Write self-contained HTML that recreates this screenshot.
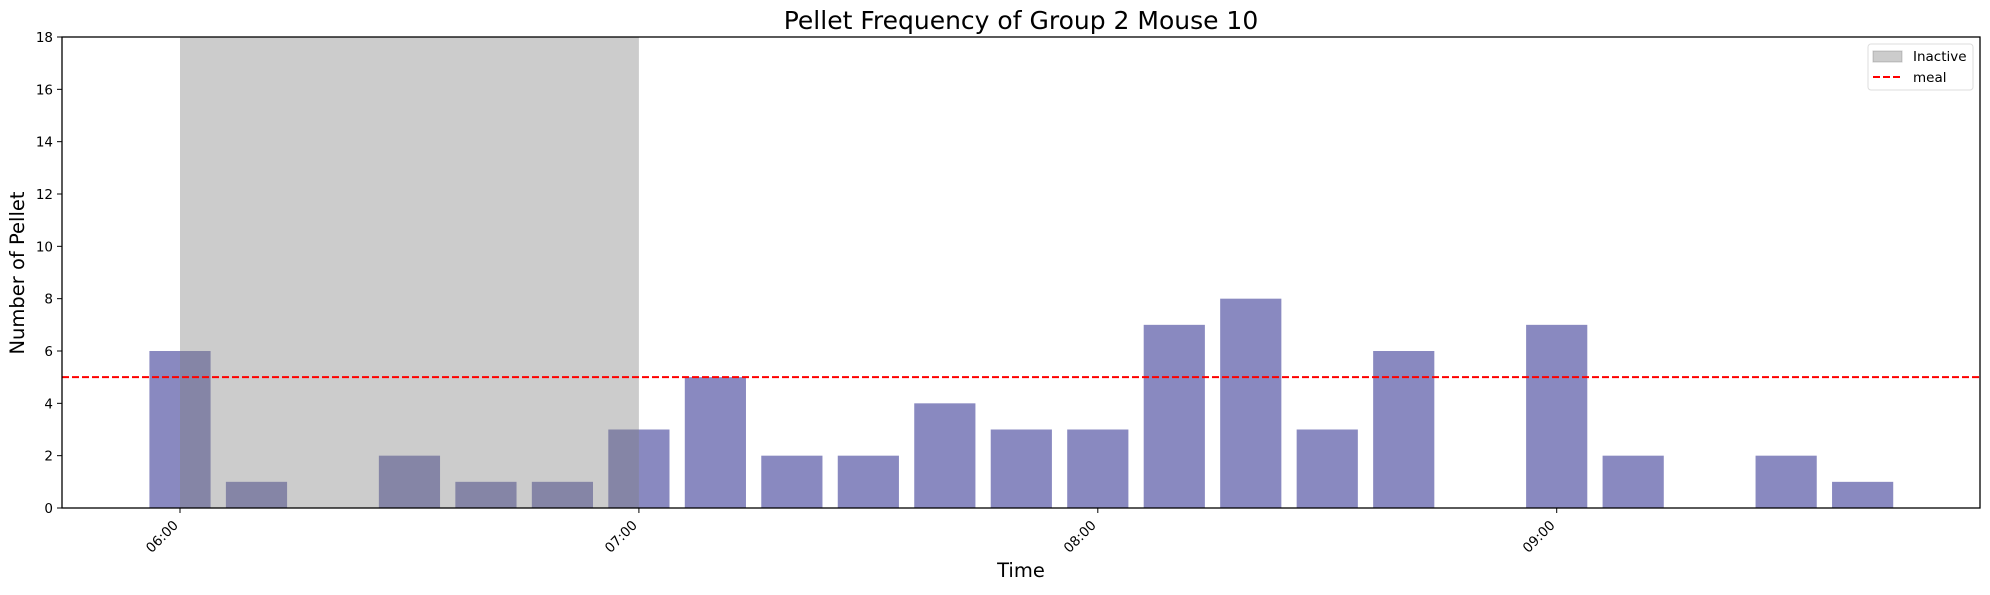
<!DOCTYPE html>
<html><head><meta charset="utf-8"><style>
body{margin:0;background:#fff;}
svg text{font-family:"DejaVu Sans","Liberation Sans",sans-serif;fill:#000;}
</style></head><body>
<svg id="chart" width="1990" height="590" xmlns="http://www.w3.org/2000/svg">
<text x="1021" y="29" font-size="25" text-anchor="middle">Pellet Frequency of Group 2 Mouse 10</text>
<g id="bars"></g>
<g id="overlay"></g>
<g id="axes"></g>
<text x="1021" y="577" font-size="19.5" text-anchor="middle">Time</text>
<text transform="translate(24,273) rotate(-90)" font-size="19.5" text-anchor="middle">Number of Pellet</text>
<g>
<rect x="1868" y="44" width="105" height="46" rx="3" fill="#fff" fill-opacity="0.8" stroke="#ddd"/>
<rect x="1873" y="51" width="29" height="11" fill="rgb(128,128,128)" fill-opacity="0.4" stroke="rgb(128,128,128)" stroke-opacity="0.4"/>
<text x="1913" y="61" font-size="13.5">Inactive</text>
<line x1="1873" y1="77" x2="1902" y2="77" stroke="red" stroke-width="2" stroke-dasharray="7,3"/>
<text x="1913" y="82" font-size="13.5">meal</text>
</g>
</svg>
<script>
// data
const binMinutes = [0,10,20,30,40,50,60,70,80,90,100,110,120,130,140,150,160,170,180,190,200,210,220];
const pelletCounts = [6,1,0,2,1,1,3,5,2,2,4,3,3,7,8,3,6,0,7,2,0,2,1];
const tickMinutes = [0,60,120,180];
const tickLabels = ["06:00","07:00","08:00","09:00"];
const yTicks = [0,2,4,6,8,10,12,14,16,18];
const inactiveStart = 0, inactiveEnd = 60;
const mealThreshold = 5;

const NS="http://www.w3.org/2000/svg";
const L=62,R=1980,T=37,B=508;
const hourPx=458.9, x0=180;
const xs=m=>x0+m/60*hourPx;
const ys=v=>B-(B-T)*v/18;
const barW=10/60*hourPx*0.8;
function mk(tag,attrs,parent){const e=document.createElementNS(NS,tag);for(const k in attrs)e.setAttribute(k,attrs[k]);parent.appendChild(e);return e;}
const bars=document.getElementById('bars'),ov=document.getElementById('overlay'),ax=document.getElementById('axes');
binMinutes.forEach((m,i)=>{
  const v=pelletCounts[i]; if(!v) return;
  const r=mk('rect',{x:xs(m)-barW/2,y:ys(v),width:barW,height:B-ys(v),fill:'rgb(137,137,192)'},bars);
  
  
});
const span=mk('rect',{x:xs(inactiveStart),y:T,width:xs(inactiveEnd)-xs(inactiveStart),height:B-T,fill:'rgb(128,128,128)','fill-opacity':0.4},ov);


const ml=mk('line',{x1:L,x2:R,y1:ys(mealThreshold),y2:ys(mealThreshold),stroke:'red','stroke-width':2,'stroke-dasharray':'7,3'},ov);


const fr=mk('rect',{x:L,y:T,width:R-L,height:B-T,fill:'none',stroke:'#000','stroke-width':1.3},ax);


yTicks.forEach(v=>{
  mk('line',{x1:L-5,x2:L,y1:ys(v),y2:ys(v),stroke:'#000'},ax);
  const t=mk('text',{x:L-9,y:ys(v)+5,'font-size':13.5,'text-anchor':'end'},ax);
  t.textContent=v;
  
  
});
tickMinutes.forEach((m,i)=>{
  const x=xs(m);
  mk('line',{x1:x,x2:x,y1:B,y2:B+5,stroke:'#000'},ax);
  const t=mk('text',{transform:`translate(${x-1},${B+18}) rotate(-45)`,'font-size':13.5,'text-anchor':'end'},ax);
  t.textContent=tickLabels[i];
  
  
});
</script>
</body></html>
